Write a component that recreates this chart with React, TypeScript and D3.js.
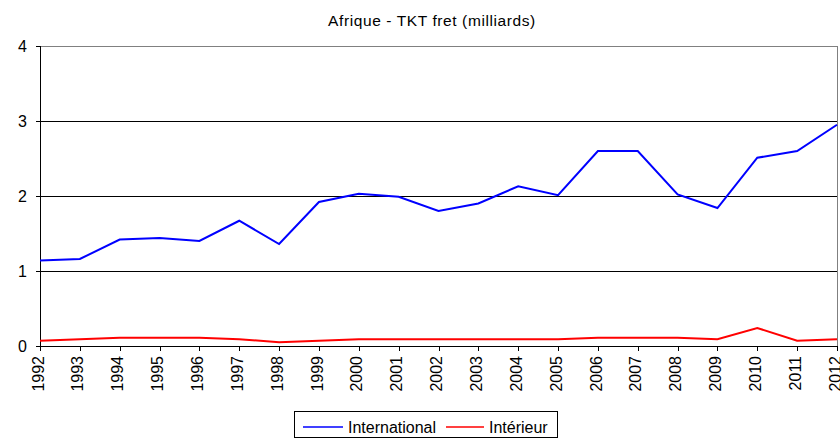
import React from "react";
import * as d3 from "d3";

const years = [1992, 1993, 1994, 1995, 1996, 1997, 1998, 1999, 2000, 2001, 2002, 2003, 2004, 2005, 2006, 2007, 2008, 2009, 2010, 2011, 2012];
const international = [1.14, 1.16, 1.42, 1.44, 1.4, 1.67, 1.36, 1.92, 2.03, 1.99, 1.8, 1.9, 2.13, 2.01, 2.6, 2.6, 2.02, 1.84, 2.51, 2.6, 2.95];
const interieur = [0.07, 0.09, 0.11, 0.11, 0.11, 0.09, 0.05, 0.07, 0.09, 0.09, 0.09, 0.09, 0.09, 0.09, 0.11, 0.11, 0.11, 0.09, 0.24, 0.07, 0.09];
const yTicks = [0, 1, 2, 3, 4];

const series = [
  { name: "International", color: "#0000ff", values: international },
  { name: "Intérieur", color: "#ff0000", values: interieur },
];

const W = 840, H = 441;
const left = 40, right = 837, top = 46, bottom = 346;
const font = "Arial, 'Liberation Sans', sans-serif";

export default function App() {
  const x = d3.scaleLinear().domain([years[0], years[years.length - 1]]).range([left, right]);
  const y = d3.scaleLinear().domain([0, 4]).range([bottom, top]);

  const line = d3.line<number>()
    .x((_, i) => x(years[i]))
    .y(d => y(d));

  return (
    <svg width={W} height={H} style={{ position: "absolute", left: 0, top: 0 }} fontFamily={font}>
      <rect width={W} height={H} fill="#fff" />
      <text x={432} y={26} textAnchor="middle" fontSize={15.5} letterSpacing={0.6}>
        Afrique - TKT fret (milliards)
      </text>

      {/* grid */}
      {yTicks.filter(t => t > 0 && t < 4).map(t => (
        <line key={t} x1={left} x2={right} y1={y(t) + 0.5} y2={y(t) + 0.5} stroke="#000" />
      ))}
      <line x1={left} x2={right} y1={y(4) + 0.5} y2={y(4) + 0.5} stroke="#808080" />
      <line x1={right + 0.5} x2={right + 0.5} y1={top} y2={bottom} stroke="#808080" />

      {/* y axis */}
      <line x1={left + 0.5} x2={left + 0.5} y1={top} y2={bottom + 1} stroke="#000" />
      {yTicks.map(t => (
        <g key={t}>
          <line x1={left - 4} x2={left} y1={y(t) + 0.5} y2={y(t) + 0.5} stroke="#000" />
          <text x={27} y={y(t)} dy="0.35em" textAnchor="end" fontSize={16}>{t}</text>
        </g>
      ))}

      {/* x axis */}
      <line x1={left} x2={right + 1} y1={bottom + 0.5} y2={bottom + 0.5} stroke="#000" />
      {years.map(yr => (
        <g key={yr}>
          <line x1={Math.round(x(yr)) + 0.5} x2={Math.round(x(yr)) + 0.5} y1={bottom} y2={bottom + 5} stroke="#000" />
          <text transform={`translate(${x(yr) - 2},${bottom + 10}) rotate(-90)`} dy="0.35em" textAnchor="end" fontSize={16}>{yr}</text>
        </g>
      ))}

      {/* lines */}
      {series.map(s => (
        <path key={s.name} d={line(s.values) ?? ""} fill="none" stroke={s.color} strokeWidth={2} />
      ))}

      {/* legend */}
      <rect x={294.5} y={411.5} width={263} height={26} fill="#fff" stroke="#000" />
      <line x1={303} x2={343} y1={427} y2={427} stroke={series[0].color} strokeWidth={1.5} />
      <text x={348} y={427} dy="0.35em" fontSize={16}>{series[0].name}</text>
      <line x1={446} x2={484} y1={427} y2={427} stroke={series[1].color} strokeWidth={1.5} />
      <text x={489} y={427} dy="0.35em" fontSize={16}>{series[1].name}</text>
    </svg>
  );
}
